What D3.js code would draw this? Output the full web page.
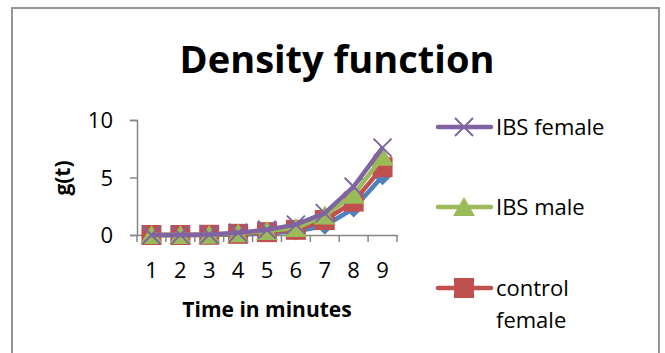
<!DOCTYPE html>
<html>
<head>
<meta charset="utf-8">
<script src="https://cdn.jsdelivr.net/npm/d3@7"></script>
<style>
  body { margin: 0; background: #fff; }
  text { font-family: "Open Sans", "Liberation Sans", sans-serif; fill: #000; }
</style>
</head>
<body>
<div id="chart"></div>
<script>
// data
var minutes = [1, 2, 3, 4, 5, 6, 7, 8, 9];
var controlMale   = [0, 0, 0, 0.05, 0.15, 0.3, 0.8, 2.3, 5.1];
var controlFemale = [0, 0, 0.02, 0.1, 0.25, 0.45, 1.3, 2.9, 5.9];
var ibsMale       = [0, 0, 0.02, 0.15, 0.35, 0.6, 1.7, 3.5, 6.8];
var ibsFemale     = [0, 0.01, 0.05, 0.2, 0.45, 0.9, 1.9, 4.2, 7.6];
var yTicks = [0, 5, 10];

var svgWidth = 665, svgHeight = 353;
var svg = d3.select("#chart").append("svg").attr("width", svgWidth).attr("height", svgHeight);

// chart border
svg.append("rect").attr("x", 12).attr("y", 8).attr("width", 647).attr("height", 360)
   .attr("fill", "none").attr("stroke", "#959595").attr("stroke-width", 2);

var x = d3.scaleBand().domain(minutes).range([137, 397]).padding(0);
var y = d3.scaleLinear().domain([0, 10]).range([235, 120]);

// title
svg.append("text").attr("x", 337).attr("y", 73).attr("text-anchor", "middle")
   .style("font-size", "38px").style("font-weight", "bold").text("Density function");

// axes
var axisColor = "#868686";
var yAxis = svg.append("g").attr("transform", "translate(137,0)")
   .call(d3.axisLeft(y).tickValues(yTicks).tickSize(7).tickPadding(17));
var xAxis = svg.append("g").attr("transform", "translate(0,235)")
   .call(d3.axisBottom(x).tickSize(0));
[yAxis, xAxis].forEach(function(a) {
  a.select(".domain").attr("stroke", axisColor).attr("stroke-width", 1.5);
  a.selectAll(".tick line").attr("stroke", axisColor).attr("stroke-width", 1.5);
  a.selectAll("text").style("font-size", "22px").style("font-family", "'Open Sans', sans-serif").attr("fill", "#000");
});
yAxis.selectAll("text").attr("dy", "0.36em");
xAxis.selectAll(".tick text").attr("y", 43).attr("dy", 0);
yAxis.select(".domain").attr("d", "M-7,235.5H0.5V120.5H-7");
// category boundary ticks
xAxis.selectAll(".sep").data(minutes.concat([10])).enter().append("line")
   .attr("x1", function(d) { return d <= 9 ? x(d) : x(9) + x.bandwidth(); })
   .attr("x2", function(d) { return d <= 9 ? x(d) : x(9) + x.bandwidth(); })
   .attr("y1", 0).attr("y2", 7).attr("stroke", axisColor).attr("stroke-width", 1.5);

// axis titles
svg.append("text").attr("x", 267).attr("y", 317).attr("text-anchor", "middle")
   .style("font-size", "21px").style("font-weight", "bold").text("Time in minutes");
svg.append("text").attr("transform", "translate(70,178) rotate(-90)").attr("text-anchor", "middle")
   .style("font-size", "21px").style("font-weight", "bold").text("g(t)");

var series = [
  { name: "control male", values: controlMale, color: "#4F81BD", marker: "diamond" },
  { name: "control female", values: controlFemale, color: "#C0504D", marker: "square" },
  { name: "IBS male", values: ibsMale, color: "#9BBB59", marker: "triangle" },
  { name: "IBS female", values: ibsFemale, color: "#8064A2", marker: "x" }
];

var cx = function(i) { return x(minutes[i]) + x.bandwidth() / 2; };
var line = d3.line().x(function(d, i) { return cx(i); }).y(function(d) { return y(d); });

function drawMarker(g, type, color, px, py) {
  if (type === "square") {
    g.append("rect").attr("x", px - 10).attr("y", py - 10).attr("width", 20).attr("height", 20).attr("fill", color);
  } else if (type === "triangle") {
    g.append("path").attr("d", "M" + px + "," + (py - 10) + "L" + (px + 11) + "," + (py + 9) + "L" + (px - 11) + "," + (py + 9) + "Z").attr("fill", color);
  } else if (type === "diamond") {
    g.append("path").attr("d", "M" + px + "," + (py - 9) + "L" + (px + 9) + "," + py + "L" + px + "," + (py + 9) + "L" + (px - 9) + "," + py + "Z").attr("fill", color);
  } else {
    g.append("path").attr("d", "M" + (px - 9) + "," + (py - 9) + "L" + (px + 9) + "," + (py + 9) + "M" + (px + 9) + "," + (py - 9) + "L" + (px - 9) + "," + (py + 9))
     .attr("stroke", color).attr("stroke-width", 2).attr("fill", "none");
  }
}

series.forEach(function(s) {
  var g = svg.append("g");
  g.append("path").datum(s.values).attr("d", line).attr("fill", "none")
   .attr("stroke", s.color).attr("stroke-width", 4.5).attr("stroke-linejoin", "round");
  s.values.forEach(function(v, i) { drawMarker(g, s.marker, s.color, cx(i), y(v)); });
});

// legend (only three entries fit in the frame)
var legendItems = [series[3], series[2], series[1]];
var legendY = [127, 207, 288];
legendItems.forEach(function(s, i) {
  var g = svg.append("g");
  var ly = legendY[i];
  g.append("line").attr("x1", 438).attr("x2", 491).attr("y1", ly).attr("y2", ly)
   .attr("stroke", s.color).attr("stroke-width", 4.5).attr("stroke-linecap", "round");
  drawMarker(g, s.marker, s.color, 464, ly);
  var t = g.append("text").attr("x", 496).attr("y", ly + 8).style("font-size", "22px");
  if (s.name === "control female") {
    t.append("tspan").attr("x", 496).text("control");
    t.append("tspan").attr("x", 496).attr("dy", 32).text("female");
  } else {
    t.text(s.name);
  }
});
</script>
</body>
</html>
